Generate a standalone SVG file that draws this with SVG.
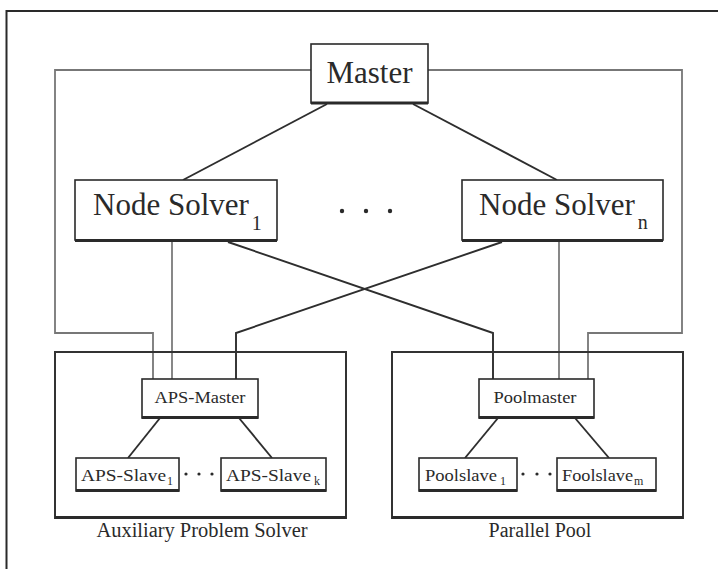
<svg xmlns="http://www.w3.org/2000/svg" width="718" height="569" viewBox="0 0 718 569">
<style>
text{font-family:"Liberation Serif","Times New Roman",serif;fill:#2a2a2a}
.box{fill:#fff;stroke:#2a2a2a;stroke-width:1.6}
.shadow{fill:none;stroke:#2a2a2a;stroke-width:3.2}
.grp{fill:none;stroke:#333;stroke-width:2}
.ln{fill:none;stroke:#2e2e2e;stroke-width:1.9}
.thin{fill:none;stroke:#555;stroke-width:1.4}
.loop{fill:none;stroke:#777;stroke-width:1.8}
.big{font-size:31px}
.sub{font-size:20px}
.mid{font-size:17px}
.sm{font-size:16px}
.ssub{font-size:12px}
.lbl{font-size:20px}
.dot{fill:#2a2a2a}
</style>
<path d="M6.5,569 V11 H718" fill="none" stroke="#2a2a2a" stroke-width="2"/>
<g id="connectors">
<path class="loop" d="M311,70 H55 V333 H153 V379"/>
<path class="loop" d="M428,70 H682 V333 H588 V379"/>
<path class="ln" d="M327,104 L183,180"/>
<path class="ln" d="M413,104 L557,180"/>
<path class="thin" d="M172,242 V379"/>
<path class="ln" d="M228,242 L493,333 V379"/>
<path class="ln" d="M502,242 L236,333 V379"/>
<path class="thin" d="M559,242 V379"/>
<path class="ln" d="M160,418 L128,458"/>
<path class="ln" d="M239,418 L272,458"/>
<path class="ln" d="M498,418 L465,458"/>
<path class="ln" d="M575,418 L609,458"/>
</g>
<g id="group-aps">
<rect class="grp" x="55" y="352" width="291" height="166"/>
<path class="shadow" d="M55,517.5 H346"/>
<text class="lbl" x="202" y="537" text-anchor="middle" textLength="211" lengthAdjust="spacingAndGlyphs">Auxiliary Problem Solver</text>
</g>
<g id="group-pool">
<rect class="grp" x="392" y="352" width="291" height="166"/>
<path class="shadow" d="M392,517.5 H683"/>
<text class="lbl" x="540" y="537" text-anchor="middle">Parallel Pool</text>
</g>
<g id="master">
<rect class="box" x="311" y="44" width="117" height="59"/>
<path class="shadow" d="M311,103 H428"/>
<text class="big" x="369.5" y="83" text-anchor="middle">Master</text>
</g>
<g id="node-solver-1">
<rect class="box" x="75" y="180" width="202" height="60"/>
<path class="shadow" d="M75,240.5 H277"/>
<text x="93" y="215"><tspan class="big">Node Solver</tspan><tspan class="sub" dx="3" dy="15">1</tspan></text>
</g>
<g id="ellipsis-ns">
<circle class="dot" cx="342" cy="211" r="2.2"/>
<circle class="dot" cx="366" cy="211" r="2.2"/>
<circle class="dot" cx="390" cy="211" r="2.2"/>
</g>
<g id="node-solver-n">
<rect class="box" x="462" y="180" width="201" height="60"/>
<path class="shadow" d="M462,240.5 H663"/>
<text x="479" y="215"><tspan class="big">Node Solver</tspan><tspan class="sub" dx="3" dy="14">n</tspan></text>
</g>
<g id="aps-master">
<rect class="box" x="142" y="379" width="116" height="39"/>
<path class="shadow" d="M142,417.5 H258"/>
<text class="mid" x="200" y="403" text-anchor="middle" textLength="91" lengthAdjust="spacingAndGlyphs">APS-Master</text>
</g>
<g id="aps-slave-1">
<rect class="box" x="76" y="458" width="103" height="33"/>
<path class="shadow" d="M76,490.5 H179"/>
<text x="81" y="481"><tspan class="sm" textLength="85" lengthAdjust="spacingAndGlyphs">APS-Slave</tspan><tspan class="ssub" dx="1" dy="4">1</tspan></text>
</g>
<g id="aps-dots">
<circle class="dot" cx="186" cy="474" r="1.6"/>
<circle class="dot" cx="199" cy="474" r="1.6"/>
<circle class="dot" cx="212" cy="474" r="1.6"/>
</g>
<g id="aps-slave-k">
<rect class="box" x="221" y="458" width="105" height="33"/>
<path class="shadow" d="M221,490.5 H326"/>
<text x="226" y="481"><tspan class="sm" textLength="85" lengthAdjust="spacingAndGlyphs">APS-Slave</tspan><tspan class="ssub" dx="3" dy="4">k</tspan></text>
</g>
<g id="poolmaster">
<rect class="box" x="479" y="379" width="115" height="39"/>
<path class="shadow" d="M479,417.5 H594"/>
<text class="mid" x="535" y="403" text-anchor="middle" textLength="83" lengthAdjust="spacingAndGlyphs">Poolmaster</text>
</g>
<g id="poolslave-1">
<rect class="box" x="419" y="458" width="98" height="33"/>
<path class="shadow" d="M419,490.5 H517"/>
<text x="425" y="481"><tspan class="sm" textLength="72" lengthAdjust="spacingAndGlyphs">Poolslave</tspan><tspan class="ssub" dx="3" dy="4">1</tspan></text>
</g>
<g id="pool-dots">
<circle class="dot" cx="523" cy="474" r="1.6"/>
<circle class="dot" cx="537" cy="474" r="1.6"/>
<circle class="dot" cx="550" cy="474" r="1.6"/>
</g>
<g id="poolslave-m">
<rect class="box" x="557" y="458" width="99" height="33"/>
<path class="shadow" d="M557,490.5 H656"/>
<text x="562" y="481"><tspan class="sm" textLength="71" lengthAdjust="spacingAndGlyphs">Foolslave</tspan><tspan class="ssub" dx="1" dy="4">m</tspan></text>
</g>
</svg>
